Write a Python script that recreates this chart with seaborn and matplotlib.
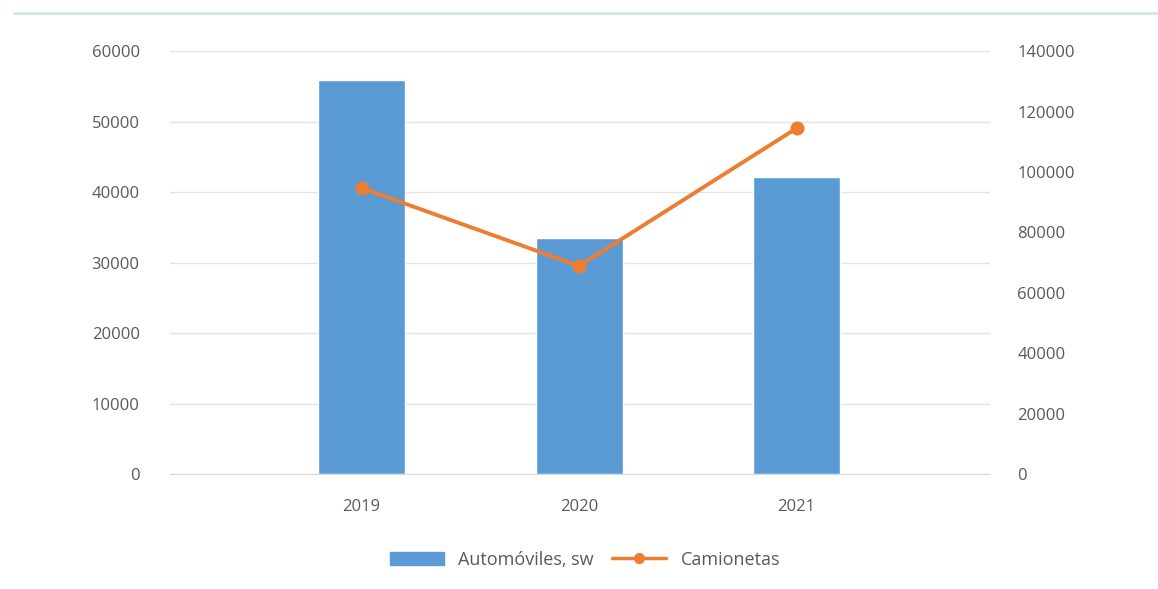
import numpy as np
import pandas as pd
import matplotlib.pyplot as plt
import matplotlib.lines as mlines
import matplotlib.patches as mpatches
import seaborn as sns

years = ['2019', '2020', '2021']
automoviles = [55900, 33500, 42100]
camionetas = [94700, 68900, 114500]

sns.set_style('white')
plt.rcParams['font.family'] = ['Open Sans', 'DejaVu Sans']

bar_color = '#5b9bd5'
line_color = '#ed7d31'
text_color = '#595959'

df = pd.DataFrame({'Año': years, 'Automóviles, sw': automoviles, 'Camionetas': camionetas})

fig = plt.figure(figsize=(11.58, 5.89), dpi=100)
ax = fig.add_axes([0.147, 0.195, 0.708, 0.718])

sns.barplot(data=df, x='Año', y='Automóviles, sw', color=bar_color, width=0.4,
            saturation=1, ax=ax, zorder=2)
ax.set_ylim(0, 60000)
ax.set_yticks(np.arange(0, 60001, 10000))
ax.yaxis.grid(True, color='#e3e3e3', linewidth=1)
ax.set_axisbelow(True)

ax2 = ax.twinx()
sns.pointplot(data=df, x='Año', y='Camionetas', color=line_color, markers='o',
              ax=ax2, linewidth=2.8, markersize=8)
ax2.set_ylim(0, 140000)
ax2.set_yticks(np.arange(0, 140001, 20000))

for a in (ax, ax2):
    a.set_xlim(-0.88, 2.89)
    a.set_xlabel('')
    a.set_ylabel('')
    for s in a.spines.values():
        s.set_visible(False)
    a.tick_params(axis='both', length=0, labelsize=12, colors=text_color)

ax.spines['bottom'].set_visible(True)
ax.spines['bottom'].set_color('#d9d9d9')
ax.tick_params(axis='x', pad=18)
ax.tick_params(axis='y', pad=22)
ax2.tick_params(axis='y', pad=19.5)

h1 = mpatches.Patch(color=bar_color, label='Automóviles, sw')
h2 = mlines.Line2D([], [], color=line_color, marker='o', markersize=7, linewidth=2.5,
                   label='Camionetas')
fig.legend(handles=[h1, h2], loc='center', bbox_to_anchor=(0.505, 0.05), ncol=2,
           frameon=False, fontsize=13, labelcolor=text_color, handlelength=3.0,
           columnspacing=1.0)

fig.add_artist(mlines.Line2D([0.012, 1.0], [0.978, 0.978], color='#cfe3ea',
                             linewidth=2, transform=fig.transFigure))

fig.savefig('out.png', dpi=100)
